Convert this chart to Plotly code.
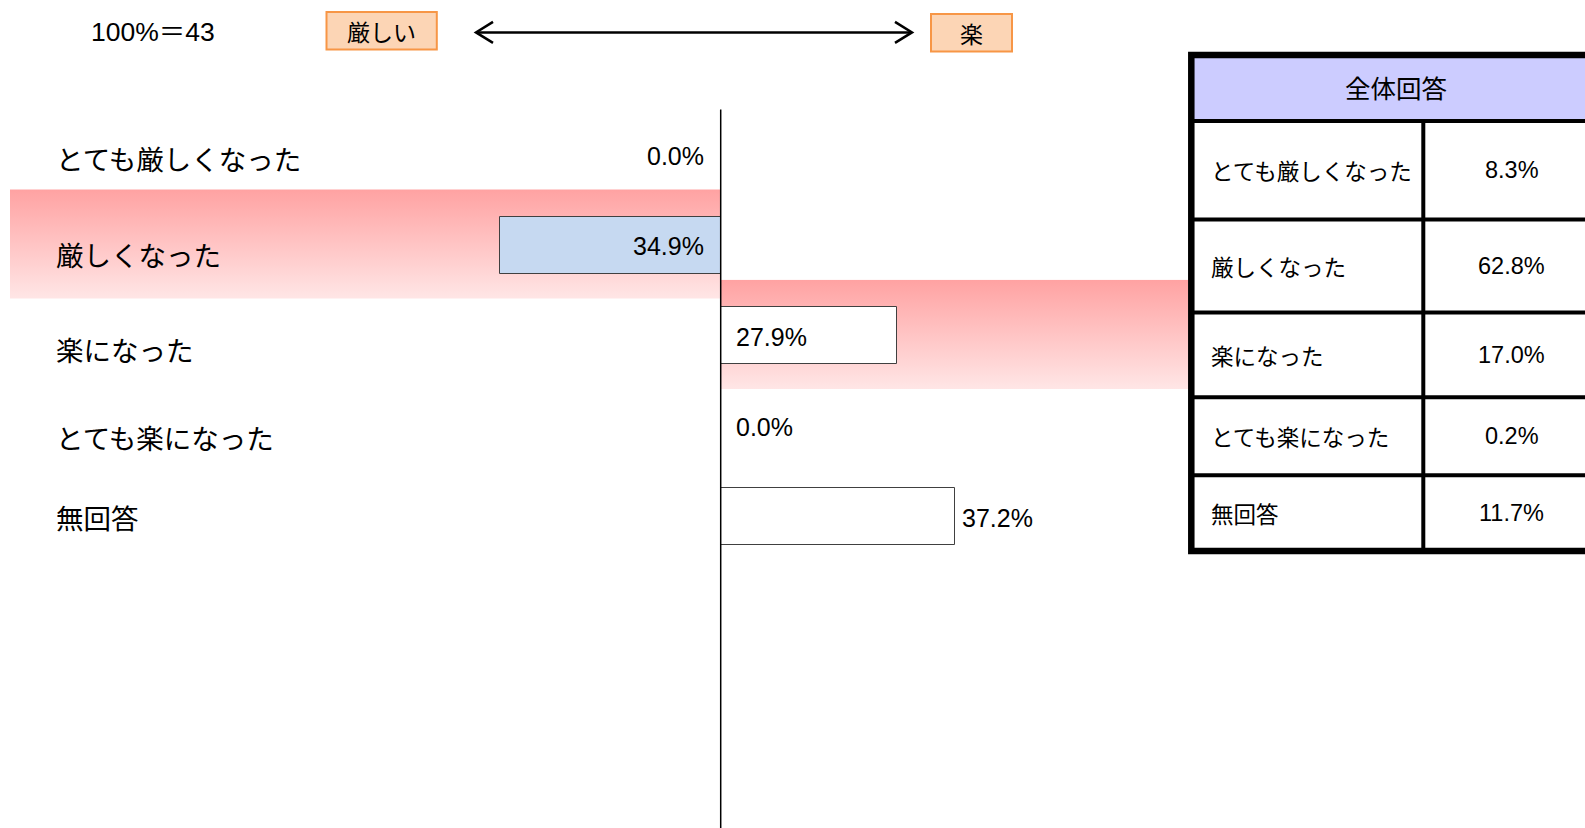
import base64
import plotly.graph_objects as go

# ---------------- data ----------------
categories = ["とても厳しくなった", "厳しくなった", "楽になった", "とても楽になった", "無回答"]
values = [0.0, 34.9, 27.9, 0.0, 37.2]          # percent
direction = [-1, -1, 1, 1, 1]                   # -1 = 厳しい side, +1 = 楽 side
highlight = ["厳しくなった", "楽になった"]
label_mode = ["zero", "zero", "zero", "zero", "end"]
sample_text = "100%＝43"
side_labels = ["厳しい", "楽"]

table_header = "全体回答"
table_labels = ["とても厳しくなった", "厳しくなった", "楽になった", "とても楽になった", "無回答"]
table_values = [8.3, 62.8, 17.0, 0.2, 11.7]

# ---------------- layout constants ----------------
W, H = 1585, 828
ZERO_PX, PX_PER_PCT = 720.7, 6.31
ROW0_PX, ROW_STEP = 155.0, 90.375
LABEL_YSHIFT = [-2.5, -9, -13, -10.5, 0]
BAND_X_LEFT_PX, BAND_X_RIGHT_PX = 10, 1188
JP = "Noto Sans CJK JP, sans-serif"
NUM = "Liberation Sans, Arial, Noto Sans CJK JP, sans-serif"


def px(x):
    return x / W


def py(y):
    return 1 - y / H


x_lo = -ZERO_PX / PX_PER_PCT
x_hi = (W - ZERO_PX) / PX_PER_PCT
y_top = -ROW0_PX / ROW_STEP
y_bot = (H - ROW0_PX) / ROW_STEP
band_left = (BAND_X_LEFT_PX - ZERO_PX) / PX_PER_PCT
band_right = (BAND_X_RIGHT_PX - ZERO_PX) / PX_PER_PCT

idx = list(range(len(categories)))
signed = [v * d for v, d in zip(values, direction)]

fig = go.Figure()

# bars
bar_colors = ["#c6d9f1" if c == "厳しくなった" else "#ffffff" for c in categories]
fig.add_trace(go.Bar(
    x=signed, y=idx, orientation="h", width=0.63,
    marker=dict(color=bar_colors, line=dict(color="#404040", width=1)),
    showlegend=False, hoverinfo="skip"))

# gradient highlight bands (images below traces)
grad_svg = ('<svg xmlns="http://www.w3.org/2000/svg" width="10" height="100" '
            'viewBox="0 0 10 100" preserveAspectRatio="none">'
            '<defs><linearGradient id="g" x1="0" y1="0" x2="0" y2="1">'
            '<stop offset="0" stop-color="#ffa2a2"/>'
            '<stop offset="1" stop-color="#ffe6e6"/></linearGradient></defs>'
            '<rect width="10" height="100" fill="url(#g)"/></svg>')
grad_uri = "data:image/svg+xml;base64," + base64.b64encode(grad_svg.encode()).decode()
images = []
for cat in highlight:
    i = categories.index(cat)
    d = direction[i]
    xa, xb = (band_left, 0) if d < 0 else (0, band_right)
    t, b = i - 0.62, i + 0.59
    images.append(dict(source=grad_uri, xref="x", yref="y", x=xa, y=t,
                       sizex=xb - xa, sizey=b - t, xanchor="left", yanchor="top",
                       sizing="stretch", layer="below"))

annotations = []
# category labels
for i, c in enumerate(categories):
    annotations.append(dict(
        x=px(53.7), xref="paper", y=i, yref="y", yshift=LABEL_YSHIFT[i],
        text=c, showarrow=False, xanchor="left", yanchor="middle",
        font=dict(family=JP, size=27.5, color="#000")))

# value labels
for i, (v, d, m) in enumerate(zip(values, direction, label_mode)):
    txt = f"{v:.1f}%"
    if m == "zero":
        xx = 0
        shift = -15 if d < 0 else 13
    else:
        xx = v * d
        shift = 5 if d > 0 else -5
    annotations.append(dict(
        x=xx, xref="x", y=i, yref="y", yshift=-1, xshift=shift,
        text=txt, showarrow=False,
        xanchor="right" if d < 0 else "left", yanchor="middle",
        font=dict(family=NUM, size=25, color="#000")))


def ptext(x, y, text, font, size, anchor="center"):
    return dict(x=px(x), y=py(y), xref="paper", yref="paper", text=text,
                showarrow=False, xanchor=anchor, yanchor="middle",
                font=dict(family=font, size=size, color="#000"))


# top texts
annotations.append(ptext(153, 32, sample_text, NUM, 26.5))
annotations.append(ptext(381.7, 31, side_labels[0], JP, 23))
annotations.append(ptext(971.5, 33, side_labels[1], JP, 23))

shapes = []
# top boxes
shapes.append(dict(type="rect", xref="paper", yref="paper",
                   x0=px(326.5), x1=px(436.8), y0=py(12), y1=py(49.5),
                   fillcolor="#fcd5b5", line=dict(color="#f79646", width=2),
                   layer="below"))
shapes.append(dict(type="rect", xref="paper", yref="paper",
                   x0=px(931), x1=px(1012), y0=py(14), y1=py(51.6),
                   fillcolor="#fcd5b5", line=dict(color="#f79646", width=2),
                   layer="below"))


def path(points):
    return "M" + " L".join(f"{px(a):.6f},{py(b):.6f}" for a, b in points)


AY = 32.4
shapes.append(dict(type="path", xref="paper", yref="paper",
                   path=path([(476, AY), (912, AY)]),
                   line=dict(color="#000", width=2.5)))
shapes.append(dict(type="path", xref="paper", yref="paper",
                   path=path([(493, AY - 10.5), (476, AY), (493, AY + 10.5)]),
                   line=dict(color="#000", width=2.5)))
shapes.append(dict(type="path", xref="paper", yref="paper",
                   path=path([(895, AY - 10.5), (912, AY), (895, AY + 10.5)]),
                   line=dict(color="#000", width=2.5)))

# zero line
shapes.append(dict(type="line", xref="x", yref="paper", x0=0, x1=0,
                   y0=0, y1=py(109.5), line=dict(color="#000", width=1.5),
                   layer="above"))

# table
TL, TR, TT, TB = 1191.3, 1600, 55, 551
row_lines = [121, 219.5, 312.5, 397.3, 475.2]
col_div = 1423.3
shapes.append(dict(type="rect", xref="paper", yref="paper",
                   x0=px(TL), x1=px(TR), y0=py(TT), y1=py(row_lines[0]),
                   fillcolor="#ccccff", line=dict(width=0), layer="below"))
shapes.append(dict(type="rect", xref="paper", yref="paper",
                   x0=px(TL), x1=px(TR), y0=py(TT), y1=py(TB),
                   fillcolor="rgba(0,0,0,0)", line=dict(color="#000", width=6.5)))
for yl in row_lines:
    shapes.append(dict(type="line", xref="paper", yref="paper",
                       x0=px(TL), x1=px(TR), y0=py(yl), y1=py(yl),
                       line=dict(color="#000", width=4)))
shapes.append(dict(type="line", xref="paper", yref="paper",
                   x0=px(col_div), x1=px(col_div), y0=py(row_lines[0]), y1=py(TB),
                   line=dict(color="#000", width=4)))

annotations.append(ptext((TL + TR) / 2, 86, table_header, JP, 25.5))
bounds = row_lines + [TB]
for k, (lab, val) in enumerate(zip(table_labels, table_values)):
    yc = (bounds[k] + bounds[k + 1]) / 2
    annotations.append(ptext(1208.7, yc, lab, JP, 22.5, anchor="left"))
    annotations.append(ptext((col_div + TR) / 2, yc, f"{val:.1f}%", NUM, 23.5))

fig.update_layout(
    width=W, height=H, margin=dict(l=0, r=0, t=0, b=0),
    paper_bgcolor="#ffffff", plot_bgcolor="#ffffff",
    xaxis=dict(range=[x_lo, x_hi], visible=False, fixedrange=True),
    yaxis=dict(range=[y_bot, y_top], visible=False, fixedrange=True),
    shapes=shapes, annotations=annotations, images=images, showlegend=False,
    bargap=0,
)

fig.write_html("out.html", config={"displayModeBar": False},
               post_script="document.body.style.margin='0';document.body.style.overflow='hidden';")
